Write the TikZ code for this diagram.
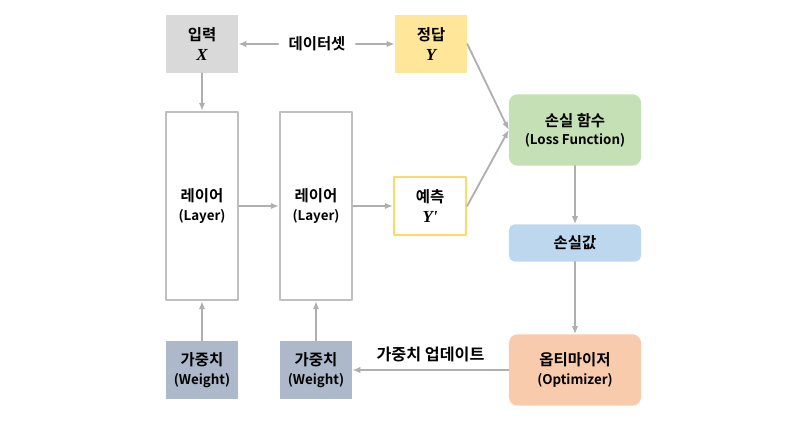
\documentclass[tikz,border=0pt]{standalone}
\usepackage{fontspec}
\setmainfont{Noto Sans CJK KR}[BoldFont={Noto Sans CJK KR Bold}]
\newfontfamily\mathlike{Liberation Serif}
\usepackage{tikz}
\usetikzlibrary{arrows.meta, positioning, shapes}
\definecolor{BoxGray}{RGB}{217, 217, 217}
\definecolor{AnswerYellow}{RGB}{255, 230, 153}
\definecolor{PredYellow}{RGB}{255, 217, 102}
\definecolor{LossGreen}{RGB}{197, 224, 180}
\definecolor{ValueBlue}{RGB}{189, 215, 238}
\definecolor{OptOrange}{RGB}{248, 203, 173}
\definecolor{WeightBlue}{RGB}{173, 185, 202}
\definecolor{LineGray}{RGB}{191, 191, 191}
\definecolor{ArrowGray}{RGB}{175, 175, 175}
\tikzset{
    every node/.style={font=\fontsize{11}{14}\selectfont\bfseries, align=center, inner sep=0pt, text=black},
    every path/.style={line cap=round, line join=round},
    >={Latex[length=2mm, width=1.6mm]},
    flow/.style={->, ArrowGray, line width=1.3pt},
    smallbox/.style={minimum width=1.8cm, minimum height=1.45cm},
    roundbox/.style={rounded corners=6pt, minimum width=3.3cm, minimum height=1.78cm},
    layerbox/.style={draw=LineGray, line width=1.6pt, fill=white, minimum width=1.8cm, minimum height=4.7cm}
}
\newcommand{\symb}[1]{{\fontsize{12}{14}\mathlike\itshape\bfseries #1}}
\newcommand{\eng}[1]{{\fontsize{9.5}{12}\selectfont #1}}

\begin{document}
\begin{tikzpicture}[x=0.025cm, y=-0.025cm]
    \useasboundingbox (0,0) rectangle (800,425);
    % top row
    \node [smallbox, fill=BoxGray] (input) at (202,44) {입력\\\symb{X}};
    \node [smallbox, fill=AnswerYellow] (answer) at (431,44) {정답\\\symb{Y}};
    \node (dataset) at (317,44) {데이터셋};
    % layers
    \node [layerbox] (layerA) at (202,206) {레이어\\[-1pt]\eng{(Layer)}};
    \node [layerbox] (layerB) at (316,206) {레이어\\[-1pt]\eng{(Layer)}};
    \node [smallbox, draw=PredYellow, line width=1.6pt, fill=white] (pred) at (430,206) {예측\\\symb{Y'}};
    % weights
    \node [smallbox, fill=WeightBlue] (weightA) at (202,370) {가중치\\[-1pt]\eng{(Weight)}};
    \node [smallbox, fill=WeightBlue] (weightB) at (316,370) {가중치\\[-1pt]\eng{(Weight)}};
    % right column
    \node [roundbox, fill=LossGreen] (loss) at (575,130) {손실 함수\\[-1pt]\eng{(Loss Function)}};
    \node [roundbox, fill=ValueBlue, minimum height=0.93cm, rounded corners=4pt] (lossval) at (575,243) {손실값};
    \node [roundbox, fill=OptOrange] (optim) at (575,370) {옵티마이저\\[-1pt]\eng{(Optimizer)}};
    % connectors
    \draw [flow] (dataset.west) ++(-10,0) coordinate (dsL) (dsL) -- (input.east);
    \draw [flow] (dataset.east) ++(10,0) coordinate (dsR) (dsR) -- (answer.west);
    \draw [flow] (input) -- (layerA);
    \draw [flow] (layerA) -- (layerB);
    \draw [flow] (layerB) -- (pred);
    \draw [flow] (answer.east) -- (loss.west);
    \draw [flow] (pred.east) -- (loss.west);
    \draw [flow] (loss) -- (lossval);
    \draw [flow] (lossval) -- (optim);
    \draw [flow] (optim) -- node [above=5pt, font=\fontsize{11.5}{14}\selectfont\bfseries] {가중치 업데이트} (weightB);
    \draw [flow] (weightA) -- (layerA);
    \draw [flow] (weightB) -- (layerB);
\end{tikzpicture}
\end{document}
